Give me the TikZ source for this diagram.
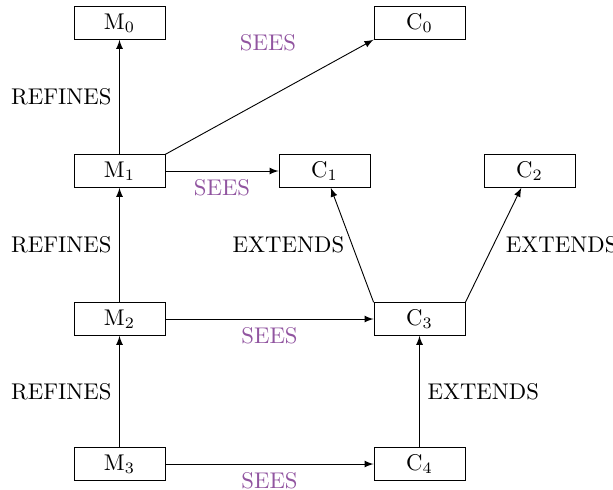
\documentclass[tikz,border=0pt]{standalone}
\usepackage{tikz}
\usetikzlibrary{positioning}

\definecolor{seescol}{RGB}{145,85,160}

\begin{document}
\begin{tikzpicture}[x=0.44pt, y=-0.44pt, >=latex,
    box/.style={draw, minimum width=40pt, minimum height=14.3pt, inner sep=2pt},
    sees/.style={text=seescol}]
      \useasboundingbox (0,0) rectangle (613,489);
      % machines
      \node[box] (m0) at (119.5,23) {M$_0$};
      \node[box] (m1) at (119.5,171) {M$_1$};
      \node[box] (m2) at (119.5,319) {M$_2$};
      \node[box] (m3) at (119.5,464) {M$_3$};
      % contexts
      \node[box] (c0) at (419.5,23) {C$_0$};
      \node[box] (c1) at (324.5,171) {C$_1$};
      \node[box] (c2) at (529.5,171) {C$_2$};
      \node[box] (c3) at (419.5,319) {C$_3$};
      \node[box] (c4) at (419.5,464) {C$_4$};
      % refinement chain
      \draw[->] (m1) -- node[left] {REFINES} (m0);
      \draw[->] (m2) -- node[left] {REFINES} (m1);
      \draw[->] (m3) -- node[left] {REFINES} (m2);
      % sees
      \draw[->] (m1.north east) -- (c0.south west);
      \node[sees] (sees0) at (268,43) {SEES};
      \draw[->] (m1) -- node[below, sees] {SEES} (c1);
      \draw[->] (m2) -- node[below, sees] {SEES} (c3);
      \draw[->] (m3) -- node[below, sees] {SEES} (c4);
      % extends
      \draw[->] (c3.north west) -- node[left] {EXTENDS} (c1);
      \draw[->] (c3.north east) -- node[right, xshift=2pt] {EXTENDS} (c2);
      \draw[->] (c4) -- node[right] {EXTENDS} (c3);
    \end{tikzpicture}
\end{document}
